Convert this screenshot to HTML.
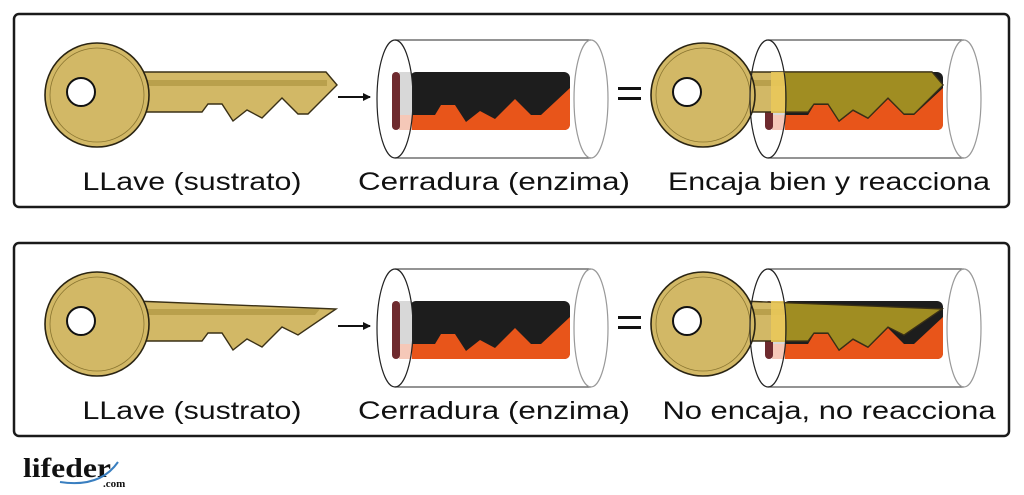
<!DOCTYPE html>
<html><head><meta charset="utf-8"><style>
html,body{margin:0;padding:0;background:#fff;}
svg{display:block;}
text{font-family:"Liberation Sans",sans-serif;fill:#111;}
</style></head><body>
<svg width="1024" height="495" viewBox="0 0 1024 495" xmlns="http://www.w3.org/2000/svg">
<defs>
  <clipPath id="inlock"><rect x="785" y="0" width="300" height="495"/></clipPath>
  <g id="lockbody">
    <path d="M412,115 L435,115 L441,105 L455,105 L466,122 L480,111 L495,119 L515,99 L531,115 L541,115 L570,88 L570,124 Q570,130 564,130 L412,130 Z" fill="#e8551a"/>
    <rect x="399" y="72" width="13" height="58" fill="#d8d8d8"/>
    <rect x="399" y="115" width="13" height="15" fill="#f5c8b8"/>
    <rect x="392" y="72" width="8" height="58" rx="4" fill="#6e2a2e"/>
  </g>
  <g id="lockframe">
    <line x1="395" y1="40" x2="591" y2="40" stroke="#555" stroke-width="1.2"/>
    <line x1="395" y1="158" x2="591" y2="158" stroke="#555" stroke-width="1.2"/>
    <ellipse cx="591" cy="99" rx="17" ry="59" fill="none" stroke="#999" stroke-width="1.2"/>
  </g>
  <g id="lock">
    <rect x="410" y="72" width="160" height="58" rx="6" fill="#1d1d1d"/>
    <use href="#lockbody"/>
    <use href="#lockframe"/>
    <ellipse cx="395" cy="99" rx="18" ry="59" fill="none" stroke="#222" stroke-width="1.2"/>
  </g>
  <path id="shaft1" d="M135,72 L326,72 L337,85 L308,114 L298,114 L282,98 L262,118 L247,110 L233,121 L222,104 L208,104 L202,112 L135,112 Z"/>
  <path id="shaft2" d="M135,72 L336,80 L298,106 L282,98 L262,118 L247,110 L233,121 L222,104 L208,104 L202,112 L135,112 Z"/>
  <g id="head">
    <circle cx="97" cy="95" r="52" fill="#d2b866" stroke="#2a2412" stroke-width="1.6"/>
    <circle cx="97" cy="95" r="47" fill="none" stroke="#8a7530" stroke-width="0.8"/>
    <circle cx="81" cy="92" r="14" fill="#fff" stroke="#111" stroke-width="2"/>
  </g>
  <g id="key1">
    <use href="#shaft1" fill="#d2b866" stroke="#3a3016" stroke-width="1.4"/>
    <rect x="135" y="80" width="192" height="6" fill="#b9a04c"/>
    <use href="#head"/>
  </g>
  <g id="key2">
    <use href="#shaft2" fill="#d2b866" stroke="#3a3016" stroke-width="1.4"/>
    <path d="M135,80 L320,80 L315,86 L135,86 Z" fill="#b9a04c"/>
    <use href="#head"/>
  </g>
  <marker id="ah" markerWidth="8" markerHeight="8" refX="7" refY="4" orient="auto" markerUnits="userSpaceOnUse">
    <path d="M0,0 L8,4 L0,8 Z" fill="#111"/>
  </marker>
</defs>

<rect x="14" y="14" width="995" height="193" rx="5" fill="none" stroke="#1a1a1a" stroke-width="2.5"/>
<rect x="14" y="243" width="995" height="193" rx="5" fill="none" stroke="#1a1a1a" stroke-width="2.5"/>

<!-- row 1 -->
<use href="#key1"/>
<line x1="338" y1="97" x2="370" y2="97" stroke="#111" stroke-width="2" marker-end="url(#ah)"/>
<use href="#lock"/>
<rect x="618" y="87" width="23" height="3" fill="#111"/>
<rect x="618" y="97" width="23" height="3" fill="#111"/>
<g transform="translate(373,0)">
  <rect x="410" y="72" width="160" height="58" rx="6" fill="#1d1d1d"/>
  <use href="#lockbody"/>
</g>
<g transform="translate(606,0)"><use href="#key1"/></g>
<g clip-path="url(#inlock)"><use href="#shaft1" transform="translate(606,0)" fill="#a08d22" stroke="#3a3016" stroke-width="1.2"/></g>
<rect x="771" y="72" width="14" height="41" fill="#e9c85a" opacity="0.9"/>
<g transform="translate(373,0)"><use href="#lockframe"/></g>
<ellipse cx="768" cy="99" rx="18" ry="59" fill="none" stroke="#222" stroke-width="1.2"/>
<text x="192" y="190" font-size="25" text-anchor="middle" textLength="219" lengthAdjust="spacingAndGlyphs">LLave (sustrato)</text>
<text x="494" y="190" font-size="25" text-anchor="middle" textLength="272" lengthAdjust="spacingAndGlyphs">Cerradura (enzima)</text>
<text x="829" y="190" font-size="25" text-anchor="middle" textLength="322" lengthAdjust="spacingAndGlyphs">Encaja bien y reacciona</text>

<!-- row 2 -->
<g transform="translate(0,229)">
<use href="#key2"/>
<line x1="338" y1="97" x2="370" y2="97" stroke="#111" stroke-width="2" marker-end="url(#ah)"/>
<use href="#lock"/>
<rect x="618" y="87" width="23" height="3" fill="#111"/>
<rect x="618" y="97" width="23" height="3" fill="#111"/>
<g transform="translate(373,0)">
  <rect x="410" y="72" width="160" height="58" rx="6" fill="#1d1d1d"/>
  <use href="#lockbody"/>
</g>
<g transform="translate(606,0)"><use href="#key2"/></g>
<g clip-path="url(#inlock)"><use href="#shaft2" transform="translate(606,0)" fill="#a08d22" stroke="#3a3016" stroke-width="1.2"/></g>
<rect x="771" y="72" width="14" height="41" fill="#e9c85a" opacity="0.9"/>
<g transform="translate(373,0)"><use href="#lockframe"/></g>
<ellipse cx="768" cy="99" rx="18" ry="59" fill="none" stroke="#222" stroke-width="1.2"/>
<text x="192" y="190" font-size="25" text-anchor="middle" textLength="219" lengthAdjust="spacingAndGlyphs">LLave (sustrato)</text>
<text x="494" y="190" font-size="25" text-anchor="middle" textLength="272" lengthAdjust="spacingAndGlyphs">Cerradura (enzima)</text>
<text x="829" y="190" font-size="25" text-anchor="middle" textLength="333" lengthAdjust="spacingAndGlyphs">No encaja, no reacciona</text>
</g>

<text x="23" y="477" font-size="27" font-weight="bold" style="font-family:'Liberation Serif',serif" textLength="88" lengthAdjust="spacingAndGlyphs">lifeder</text>
<path d="M60,482 Q100,488 118,462" fill="none" stroke="#3a7fc0" stroke-width="2"/>
<text x="103" y="487" font-size="11" font-weight="bold" style="font-family:'Liberation Serif',serif">.com</text>
</svg>
</body></html>
